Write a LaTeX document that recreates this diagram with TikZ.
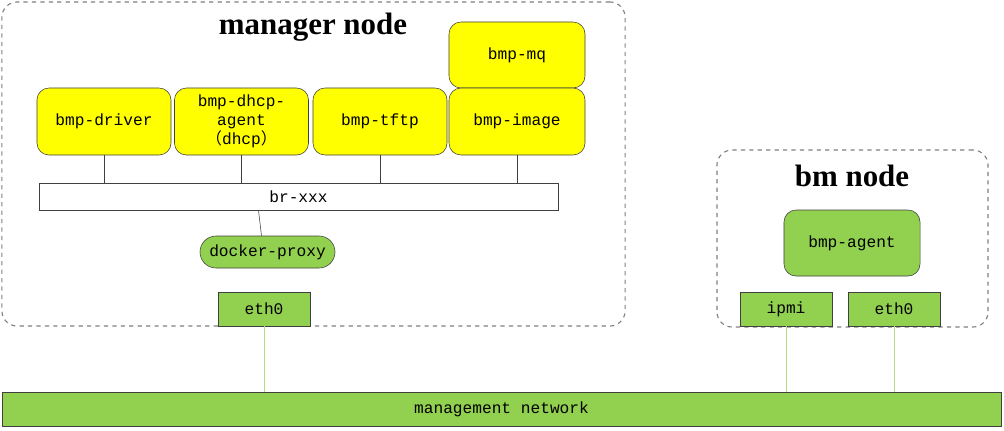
\documentclass[tikz,border=0pt]{standalone}
\usepackage{fontspec}
\setmainfont{Liberation Serif}
\setmonofont{Liberation Mono}
\newfontfamily\cjk{Noto Sans CJK SC}
\usepackage{xcolor}
\usepackage{tikz}
\usetikzlibrary{positioning}

\definecolor{svcyellow}{HTML}{FFFF00}
\definecolor{netgreen}{HTML}{92D050}
\definecolor{edge}{HTML}{404040}

\begin{document}
\begin{tikzpicture}[
    x=0.025cm, y=-0.025cm,
    svc/.style={rectangle, rounded corners=0.3cm, draw=edge, fill=svcyellow,
                minimum width=3.35cm, minimum height=1.675cm, align=center,
                font=\ttfamily\fontsize{11.5}{13.5}\selectfont, inner sep=1pt},
    port/.style={rectangle, draw=edge, fill=netgreen, minimum width=2.3cm,
                 minimum height=0.85cm, font=\ttfamily\fontsize{11.5}{13.5}\selectfont},
    group/.style={rectangle, rounded corners=0.38cm, draw=gray, dashed, thick},
    ttl/.style={font=\bfseries\fontsize{22}{25}\selectfont},
    link/.style={draw=edge},
    wire/.style={draw=netgreen!70!white}
]
\useasboundingbox (0,0) rectangle (1004,430);

% manager node
\node[group, minimum width=15.575cm, minimum height=8.1cm] (mgr) at (313.5,164) {};
\node[ttl] (mgrttl) at (313,27) {manager node};
\node[svc, minimum width=3.4cm, minimum height=1.65cm] (mq) at (517,55) {bmp-mq};
\node[svc] (drv) at (104,121.5) {bmp-driver};
\node[svc] (dhcp) at (241.5,121.5) {bmp-dhcp-\\agent\\{\cjk （}dhcp{\cjk ）}};
\node[svc] (tftp) at (380,121.5) {bmp-tftp};
\node[svc, minimum width=3.4cm] (img) at (517,121.5) {bmp-image};
\node[rectangle, draw=edge, fill=white, minimum width=12.975cm, minimum height=0.675cm,
      font=\ttfamily\fontsize{11.5}{13.5}\selectfont] (br) at (298.5,196.5) {br-xxx};
\node[svc, fill=netgreen, rounded corners=0.4cm, minimum width=3.375cm,
      minimum height=0.8cm] (proxy) at (267.5,252) {docker-proxy};
\node[port] (eth0m) at (264,309) {eth0};

\draw[link] (drv.south) -- (drv.south |- br.north);
\draw[link] (dhcp.south) -- (dhcp.south |- br.north);
\draw[link] (tftp.south) -- (tftp.south |- br.north);
\draw[link] (img.south) -- (img.south |- br.north);
\draw[link] ([xshift=-1cm]br.south) -- ([xshift=-0.15cm]proxy.north);

% bm node
\node[group, minimum width=6.775cm, minimum height=4.425cm] (bm) at (852.5,238.5) {};
\node[ttl] (bmttl) at (852,176) {bm node};
\node[svc, fill=netgreen, minimum width=3.4cm, minimum height=1.65cm] (agent) at (852,243) {bmp-agent};
\node[port] (ipmi) at (786,309) {ipmi};
\node[port] (eth0b) at (894,309) {eth0};

% management network
\node[port, minimum width=24.975cm] (net) at (501.5,409) {management network};

\draw[wire] (eth0m.south) -- (eth0m.south |- net.north);
\draw[wire] (ipmi.south) -- (ipmi.south |- net.north);
\draw[wire] (eth0b.south) -- (eth0b.south |- net.north);
\end{tikzpicture}
\end{document}
